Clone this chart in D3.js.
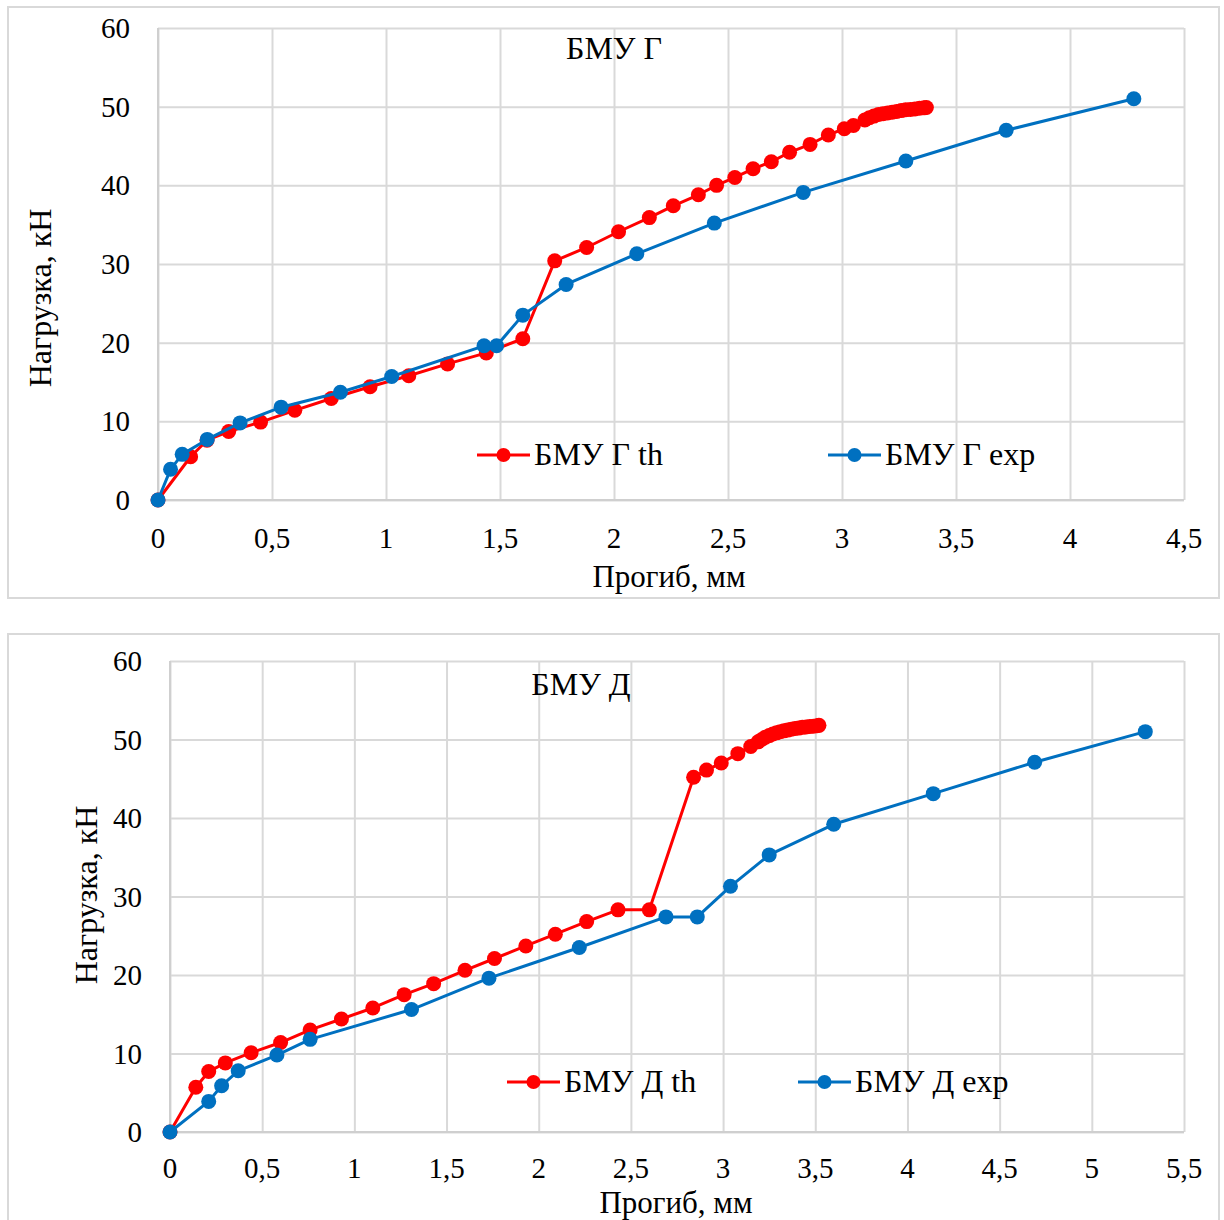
<!DOCTYPE html>
<html>
<head>
<meta charset="utf-8">
<script src="https://cdn.jsdelivr.net/npm/d3@7"></script>
<style>
  body { margin: 0; background: #fff; }
  svg text { font-family: "Liberation Serif", "Times New Roman", serif; fill: #000; }
</style>
</head>
<body>
<svg id="chart" width="1224" height="1220"></svg>
<script>
// ---- Data: load (кН) vs deflection (мм) ----
// БМУ Г, theory
const gThX = [0, 0.143, 0.215, 0.31, 0.45, 0.60, 0.76, 0.93, 1.10, 1.27, 1.44, 1.60, 1.74, 1.88, 2.02, 2.155, 2.26, 2.37, 2.45, 2.53, 2.61, 2.69, 2.77, 2.86, 2.94, 3.01, 3.05, 3.10, 3.12, 3.14, 3.16, 3.18, 3.20, 3.22, 3.24, 3.26, 3.28, 3.30, 3.32, 3.34, 3.36, 3.37];
const gThY = [0, 5.5, 7.6, 8.7, 9.9, 11.4, 12.9, 14.4, 15.8, 17.3, 18.7, 20.5, 30.4, 32.1, 34.1, 35.9, 37.4, 38.8, 40.0, 41.0, 42.1, 43.0, 44.2, 45.2, 46.4, 47.2, 47.6, 48.3, 48.6, 48.8, 49.0, 49.1, 49.2, 49.3, 49.4, 49.5, 49.6, 49.65, 49.7, 49.8, 49.85, 49.9];
// БМУ Г, experiment
const gExpX = [0, 0.055, 0.106, 0.216, 0.36, 0.54, 0.80, 1.025, 1.43, 1.485, 1.60, 1.79, 2.10, 2.44, 2.83, 3.28, 3.72, 4.28];
const gExpY = [0, 3.9, 5.8, 7.7, 9.8, 11.8, 13.7, 15.7, 19.6, 19.6, 23.5, 27.4, 31.3, 35.2, 39.1, 43.1, 47.0, 51.0];
// БМУ Д, theory
const dThX = [0, 0.14, 0.21, 0.30, 0.44, 0.60, 0.76, 0.93, 1.10, 1.27, 1.43, 1.60, 1.76, 1.93, 2.09, 2.26, 2.43, 2.60, 2.84, 2.91, 2.99, 3.08, 3.15, 3.19, 3.21, 3.23, 3.25, 3.27, 3.29, 3.31, 3.33, 3.35, 3.37, 3.39, 3.41, 3.43, 3.45, 3.47, 3.49, 3.51, 3.52];
const dThY = [0, 5.7, 7.7, 8.8, 10.1, 11.4, 13.0, 14.4, 15.8, 17.5, 18.9, 20.6, 22.1, 23.7, 25.2, 26.8, 28.3, 28.3, 45.2, 46.1, 47.0, 48.2, 49.1, 49.7, 50.0, 50.3, 50.5, 50.7, 50.85, 51.0, 51.1, 51.2, 51.3, 51.4, 51.45, 51.55, 51.6, 51.65, 51.7, 51.75, 51.8];
// БМУ Д, experiment
const dExpX = [0, 0.21, 0.28, 0.37, 0.58, 0.76, 1.31, 1.73, 2.22, 2.69, 2.86, 3.04, 3.25, 3.60, 4.14, 4.69, 5.29];
const dExpY = [0, 3.9, 5.9, 7.8, 9.8, 11.8, 15.6, 19.6, 23.5, 27.4, 27.4, 31.3, 35.3, 39.2, 43.1, 47.1, 51.0];

// Axis ticks
const yTicks = [0, 10, 20, 30, 40, 50, 60];
const gXTicks = [0, 0.5, 1, 1.5, 2, 2.5, 3, 3.5, 4, 4.5];
const dXTicks = [0, 0.5, 1, 1.5, 2, 2.5, 3, 3.5, 4, 4.5, 5, 5.5];

// Labels
const xTitle = "Прогиб, мм";
const yTitle = "Нагрузка, кН";
const gTitle = "БМУ Г";
const dTitle = "БМУ Д";
const gNames = ["БМУ Г th", "БМУ Г exp"];
const dNames = ["БМУ Д th", "БМУ Д exp"];

const RED = "#ff0000", BLUE = "#0070c0", GRID = "#d9d9d9";
const ru = d3.formatLocale({ decimal: ",", thousands: " ", grouping: [3], currency: ["", ""] });
const fmt = ru.format(".1~f");

const svg = d3.select("#chart");

function zip(xs, ys) { return xs.map((x, i) => ({ x, y: ys[i] })); }

function drawChart(c) {
  const g = svg.append("g");
  // outer frame
  g.append("rect").attr("x", c.frame[0]).attr("y", c.frame[1])
    .attr("width", c.frame[2]).attr("height", c.frame[3])
    .attr("fill", "#fff").attr("stroke", GRID).attr("stroke-width", 2);

  const x = d3.scaleLinear().domain([0, c.xMax]).range([c.left, c.right]);
  const y = d3.scaleLinear().domain([0, 60]).range([c.bottom, c.top]);

  // gridlines
  const gx = g.append("g").attr("transform", `translate(0,${c.bottom})`)
    .call(d3.axisBottom(x).tickValues(c.xTicks).tickSize(-(c.bottom - c.top)).tickFormat(""));
  const gy = g.append("g").attr("transform", `translate(${c.left},0)`)
    .call(d3.axisLeft(y).tickValues(yTicks).tickSize(-(c.right - c.left)).tickFormat(""));
  [gx, gy].forEach(a => {
    a.select(".domain").remove();
    a.selectAll("line").attr("stroke", GRID).attr("stroke-width", 2);
  });
  // axis lines
  g.append("line").attr("x1", c.left).attr("x2", c.right).attr("y1", c.bottom).attr("y2", c.bottom)
    .attr("stroke", "#cfcfcf").attr("stroke-width", 2);
  g.append("line").attr("x1", c.left).attr("x2", c.left).attr("y1", c.top).attr("y2", c.bottom)
    .attr("stroke", "#cfcfcf").attr("stroke-width", 2);

  // tick labels
  g.append("g").selectAll("text").data(yTicks).join("text")
    .attr("x", c.yLabX).attr("y", d => y(d) + 10)
    .attr("text-anchor", "end").attr("font-size", 29).text(d => fmt(d));
  g.append("g").selectAll("text").data(c.xTicks).join("text")
    .attr("x", d => x(d)).attr("y", c.xLabY)
    .attr("text-anchor", "middle").attr("font-size", 29).text(d => fmt(d));

  // axis titles
  g.append("text").attr("x", c.xTitle[0]).attr("y", c.xTitle[1])
    .attr("text-anchor", "middle").attr("font-size", 31).text(xTitle);
  g.append("text").attr("transform", `translate(${c.yTitle[0]},${c.yTitle[1]}) rotate(-90)`)
    .attr("text-anchor", "middle").attr("dominant-baseline", "central")
    .attr("font-size", 32).text(yTitle);

  // chart title
  g.append("text").attr("x", c.title[0]).attr("y", c.title[1])
    .attr("text-anchor", "middle").attr("font-size", 32).text(c.titleText);

  const line = d3.line().x(d => x(d.x)).y(d => y(d.y));
  c.series.forEach(s => {
    const pts = zip(s.xs, s.ys);
    const sg = g.append("g");
    sg.append("path").datum(pts).attr("d", line)
      .attr("fill", "none").attr("stroke", s.color).attr("stroke-width", 3)
      .attr("stroke-linejoin", "round");
    sg.selectAll("circle").data(pts).join("circle")
      .attr("cx", d => x(d.x)).attr("cy", d => y(d.y)).attr("r", 7.5).attr("fill", s.color);
  });

  // legend
  c.legend.forEach((L, i) => {
    const s = c.series[i];
    const lg = g.append("g");
    lg.append("line").attr("x1", L[0]).attr("x2", L[0] + 53).attr("y1", L[1]).attr("y2", L[1])
      .attr("stroke", s.color).attr("stroke-width", 3);
    lg.append("circle").attr("cx", L[0] + 26.5).attr("cy", L[1]).attr("r", 7).attr("fill", s.color);
    lg.append("text").attr("x", L[0] + 57).attr("y", L[1] + 10)
      .attr("font-size", 32).text(s.name);
  });
}

drawChart({
  frame: [8, 7, 1211, 591],
  left: 158, right: 1184, top: 28, bottom: 500, xMax: 4.5, xTicks: gXTicks,
  yLabX: 130, xLabY: 548,
  xTitle: [669, 587], yTitle: [40, 298],
  title: [614, 59], titleText: gTitle,
  series: [
    { xs: gThX, ys: gThY, color: RED, name: gNames[0] },
    { xs: gExpX, ys: gExpY, color: BLUE, name: gNames[1] }
  ],
  legend: [[477, 455], [828, 455]]
});

drawChart({
  frame: [8, 634, 1211, 600],
  left: 170, right: 1184, top: 661, bottom: 1132, xMax: 5.5, xTicks: dXTicks,
  yLabX: 142, xLabY: 1178,
  xTitle: [676, 1213], yTitle: [86, 895],
  title: [581, 695], titleText: dTitle,
  series: [
    { xs: dThX, ys: dThY, color: RED, name: dNames[0] },
    { xs: dExpX, ys: dExpY, color: BLUE, name: dNames[1] }
  ],
  legend: [[507, 1082], [798, 1082]]
});
</script>
</body>
</html>
